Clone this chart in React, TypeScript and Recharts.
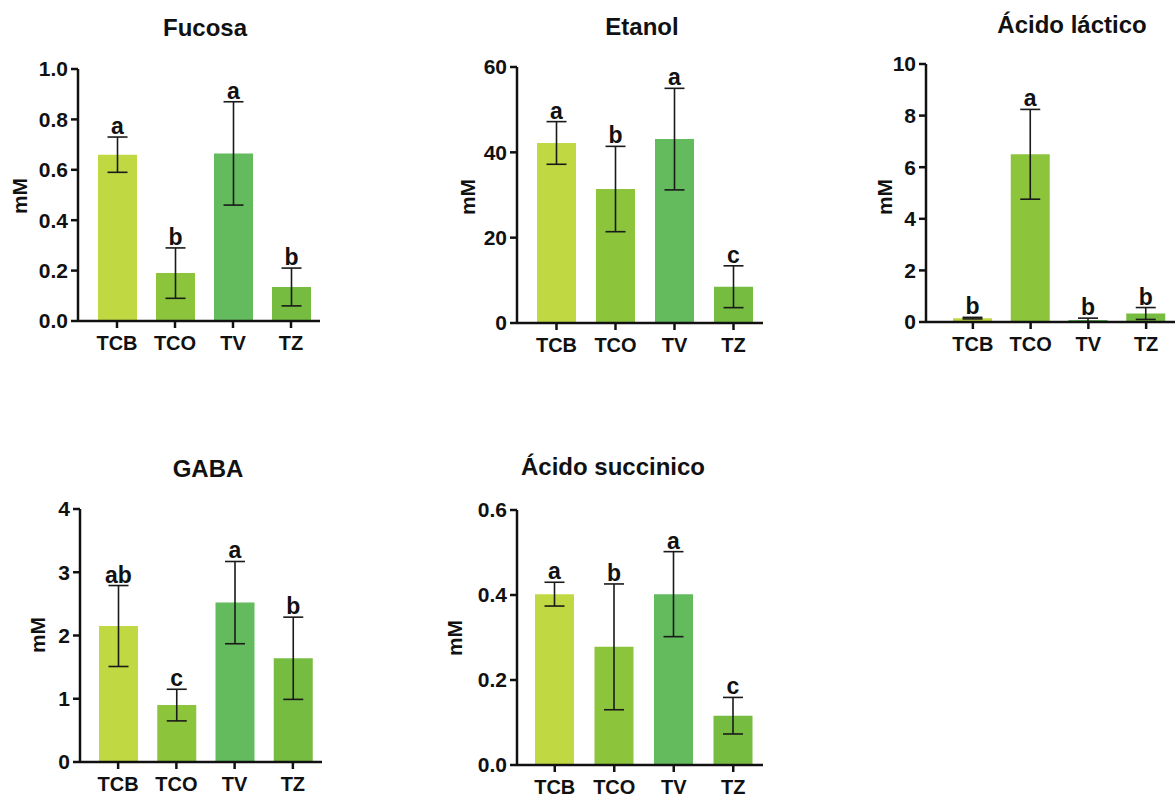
import { BarChart, Bar, XAxis, YAxis, ErrorBar, Cell, LabelList } from 'recharts';

const categories = ['TCB', 'TCO', 'TV', 'TZ'];
const barColors = ['#c0d842', '#8cc43c', '#63bb5e', '#76bc40'];

const fucosaMean = [0.66, 0.19, 0.665, 0.135];
const fucosaSd = [0.07, 0.1, 0.205, 0.075];
const fucosaLetters = ['a', 'b', 'a', 'b'];
const fucosaTicks = [0, 0.2, 0.4, 0.6, 0.8, 1.0];

const etanolMean = [42.2, 31.4, 43.1, 8.5];
const etanolSd = [5.0, 10.0, 11.9, 4.9];
const etanolLetters = ['a', 'b', 'a', 'c'];
const etanolTicks = [0, 20, 40, 60];

const lacticoMean = [0.15, 6.5, 0.08, 0.33];
const lacticoSd = [0.03, 1.74, 0.07, 0.23];
const lacticoLetters = ['b', 'a', 'b', 'b'];
const lacticoTicks = [0, 2, 4, 6, 8, 10];

const gabaMean = [2.15, 0.9, 2.52, 1.64];
const gabaSd = [0.64, 0.25, 0.65, 0.65];
const gabaLetters = ['ab', 'c', 'a', 'b'];
const gabaTicks = [0, 1, 2, 3, 4];

const succinicoMean = [0.402, 0.278, 0.402, 0.116];
const succinicoSd = [0.028, 0.148, 0.1, 0.043];
const succinicoLetters = ['a', 'b', 'a', 'c'];
const succinicoTicks = [0, 0.2, 0.4, 0.6];

const FONT = '"Liberation Sans", Arial, sans-serif';
const M_TOP = 20;
const M_BOTTOM = 10;
const X_AXIS_H = 36;
const Y_AXIS_W = 56;
const M_LEFT = 4;

interface PanelProps {
  title: string;
  titleX: number;
  titleY: number;
  labelX: number;
  labelY: number;
  axisX: number;
  plotTop: number;
  plotBottom: number;
  plotRight: number;
  padLeft: number;
  mean: number[];
  sd: number[];
  letters: string[];
  ticks: number[];
  fmt: (v: number) => string;
}

function Panel(p: PanelProps) {
  const data = categories.map((c, i) => ({ cat: c, mean: p.mean[i], sd: p.sd[i], letter: p.letters[i] }));
  const left = p.axisX - Y_AXIS_W - M_LEFT;
  const top = p.plotTop - M_TOP;
  const width = p.plotRight - left + 4;
  const height = p.plotBottom - top + X_AXIS_H + M_BOTTOM;
  const plotH = p.plotBottom - p.plotTop;
  const dMax = p.ticks[p.ticks.length - 1];

  const renderLetter = (props: any) => {
    const { x, y, width: w, height: h, index } = props;
    const base = y + h;
    const errTop = base - ((p.mean[index] + p.sd[index]) / dMax) * plotH;
    return (
      <text x={x + w / 2} y={errTop - 3} textAnchor="middle" fontFamily={FONT} fontWeight={700} fontSize={23} fill="#111">
        {p.letters[index]}
      </text>
    );
  };

  return (
    <>
      <div
        style={{
          position: 'absolute',
          left: p.titleX - 150,
          top: p.titleY - 14,
          width: 300,
          textAlign: 'center',
          fontFamily: FONT,
          fontWeight: 700,
          fontSize: 24,
          lineHeight: '28px',
          color: '#111',
        }}
      >
        {p.title}
      </div>
      <div
        style={{
          position: 'absolute',
          left: p.labelX - 30,
          top: p.labelY - 12,
          width: 60,
          textAlign: 'center',
          fontFamily: FONT,
          fontWeight: 700,
          fontSize: 21,
          lineHeight: '24px',
          color: '#111',
          transform: 'rotate(-90deg)',
        }}
      >
        mM
      </div>
      <div style={{ position: 'absolute', left, top }}>
        <BarChart width={width} height={height} data={data} margin={{ top: M_TOP, right: 4, left: M_LEFT, bottom: M_BOTTOM }}>
          <XAxis
            dataKey="cat"
            interval={0}
            height={X_AXIS_H}
            padding={{ left: p.padLeft, right: 0 }}
            stroke="#111"
            strokeWidth={2.5}
            tickSize={7}
            tickMargin={8}
            tick={{ fill: '#111', fontFamily: FONT, fontWeight: 700, fontSize: 20 }}
          />
          <YAxis
            type="number"
            domain={[0, dMax]}
            ticks={p.ticks}
            interval={0}
            width={Y_AXIS_W}
            stroke="#111"
            strokeWidth={2.5}
            tickSize={7}
            tickMargin={3}
            tickFormatter={p.fmt}
            tick={{ fill: '#111', fontFamily: FONT, fontWeight: 700, fontSize: 21 }}
          />
          <Bar dataKey="mean" barSize={39} isAnimationActive={false}>
            {data.map((d, i) => (
              <Cell key={d.cat} fill={barColors[i]} />
            ))}
            <ErrorBar dataKey="sd" width={10} stroke="#1a1a1a" strokeWidth={1.6} direction="y" />
            <LabelList dataKey="letter" content={renderLetter} />
          </Bar>
        </BarChart>
      </div>
    </>
  );
}

const f1 = (v: number) => v.toFixed(1);
const f0 = (v: number) => String(v);

export default function App() {
  return (
    <div style={{ position: 'absolute', left: 0, top: 0, width: 1175, height: 799, overflow: 'hidden', background: '#fff' }}>
      <Panel
        title="Fucosa" titleX={205} titleY={28} labelX={20} labelY={196}
        axisX={78} plotTop={69} plotBottom={321} plotRight={320} padLeft={10}
        mean={fucosaMean} sd={fucosaSd} letters={fucosaLetters} ticks={fucosaTicks} fmt={f1}
      />
      <Panel
        title="Etanol" titleX={642} titleY={27} labelX={468} labelY={197}
        axisX={517} plotTop={67} plotBottom={323} plotRight={763} padLeft={10}
        mean={etanolMean} sd={etanolSd} letters={etanolLetters} ticks={etanolTicks} fmt={f0}
      />
      <Panel
        title="Ácido láctico" titleX={1072} titleY={25} labelX={885} labelY={197}
        axisX={926} plotTop={64} plotBottom={322} plotRight={1175} padLeft={18}
        mean={lacticoMean} sd={lacticoSd} letters={lacticoLetters} ticks={lacticoTicks} fmt={f0}
      />
      <Panel
        title="GABA" titleX={208} titleY={469} labelX={38} labelY={635}
        axisX={80} plotTop={509} plotBottom={762} plotRight={322} padLeft={9}
        mean={gabaMean} sd={gabaSd} letters={gabaLetters} ticks={gabaTicks} fmt={f0}
      />
      <Panel
        title="Ácido succinico" titleX={613} titleY={467} labelX={455} labelY={638}
        axisX={517} plotTop={510} plotBottom={765} plotRight={763} padLeft={8}
        mean={succinicoMean} sd={succinicoSd} letters={succinicoLetters} ticks={succinicoTicks} fmt={f1}
      />
    </div>
  );
}
